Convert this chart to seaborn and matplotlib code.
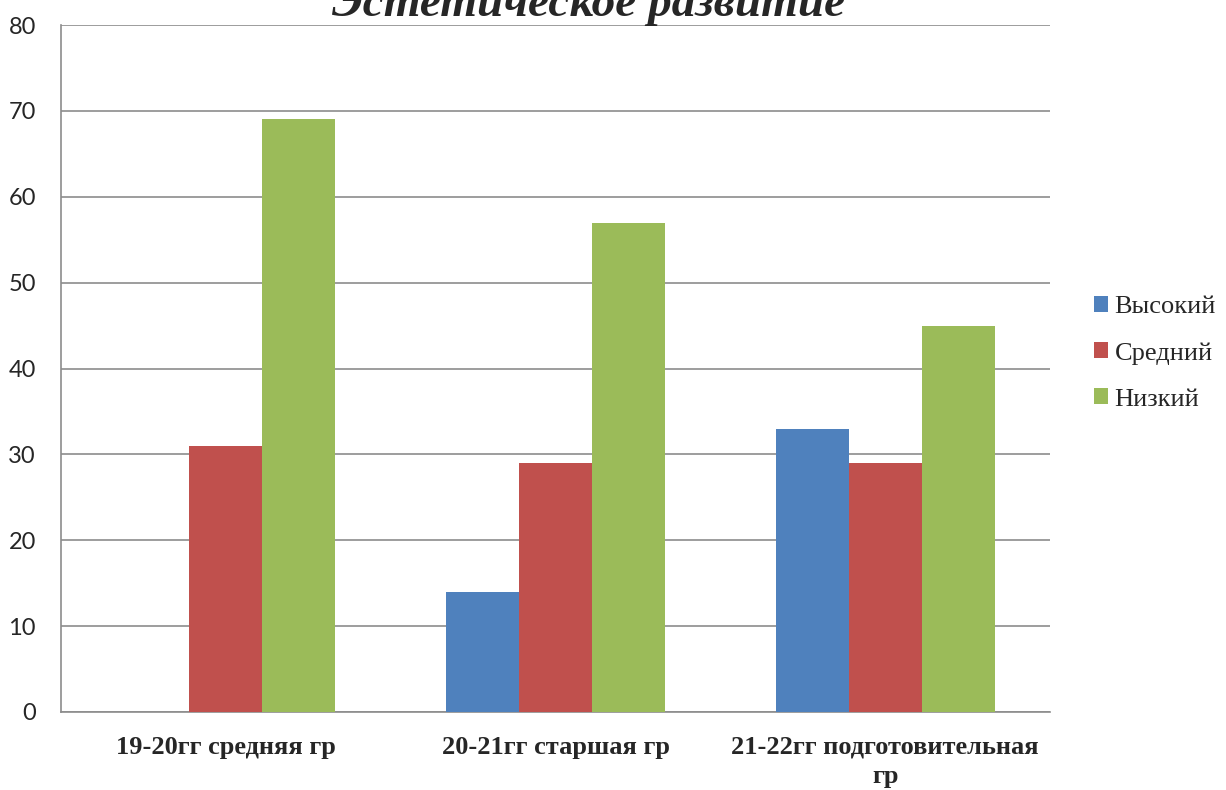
import pandas as pd
import matplotlib.pyplot as plt
import seaborn as sns

# chart values
groups = ['19-20гг средняя гр', '20-21гг старшая гр', '21-22гг подготовительная\nгр']
levels = ['Высокий', 'Средний', 'Низкий']
high = [0, 14, 33]
mid = [31, 29, 29]
low = [69, 57, 45]
colors = ['#4F81BD', '#C0504D', '#9BBB59']

rows = []
for lvl, vals in zip(levels, [high, mid, low]):
    for g, v in zip(groups, vals):
        rows.append({'group': g, 'level': lvl, 'value': v})
df = pd.DataFrame(rows)

sns.set_style('white')
fig = plt.figure(figsize=(12.26, 7.90), dpi=100)
ax = fig.add_axes([61 / 1226, 78 / 790, 989 / 1226, 687 / 790])

sns.barplot(data=df, x='group', y='value', hue='level', order=groups, hue_order=levels,
            palette=colors, width=0.664, gap=0, saturation=1, linewidth=0, ax=ax, zorder=3)

ax.set_xlim(-0.5, 2.5)
ax.set_ylim(0, 80)
ax.set_yticks(range(0, 81, 10))
ax.grid(axis='y', color='#8c8c8c', linewidth=1.2, zorder=0)
ax.set_axisbelow(True)

for s in ['top', 'right']:
    ax.spines[s].set_visible(False)
for s in ['left', 'bottom']:
    ax.spines[s].set_color('#8c8c8c')
    ax.spines[s].set_linewidth(1.2)

ax.set_xticks([-0.5, 0.5, 1.5, 2.5], minor=True)
ax.tick_params(axis='x', which='minor', length=7, color='#8c8c8c', width=1.2, direction='out')
ax.tick_params(axis='x', which='major', length=0, pad=17)
ax.tick_params(axis='y', length=7, color='#8c8c8c', width=1.2, direction='out', pad=11)

for lab in ax.get_xticklabels():
    lab.set_fontfamily('Liberation Serif')
    lab.set_fontweight('bold')
    lab.set_fontsize(19)
    lab.set_linespacing(1.35)
for lab in ax.get_yticklabels():
    lab.set_fontfamily('Lato')
    lab.set_fontsize(17)

ax.set_xlabel('')
ax.set_ylabel('')

leg = ax.legend(loc='center left', bbox_to_anchor=(1.02, 0.522), frameon=False,
                prop={'family': 'Liberation Serif', 'size': 19},
                handlelength=0.55, handleheight=0.55, handletextpad=0.25, labelspacing=0.9)

# title is partly above the top edge, as in the original
fig.text(589 / 1226, 1 - 16 / 790, 'Эстетическое развитие', ha='center', va='baseline',
         fontfamily='Liberation Serif', fontweight='bold', fontstyle='italic', fontsize=34)

fig.savefig('out.png', dpi=100)
